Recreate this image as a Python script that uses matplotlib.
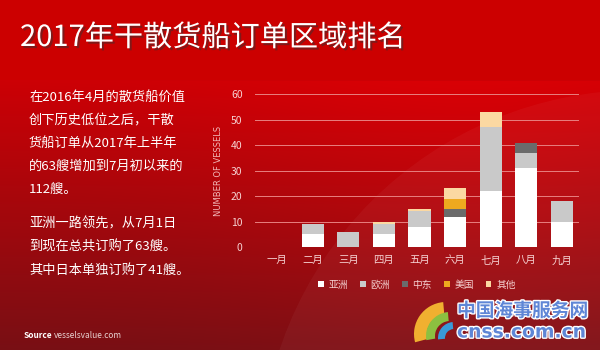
import numpy as np
import matplotlib.pyplot as plt
import matplotlib.patheffects as pe
from matplotlib.patches import Circle, Wedge

plt.rcParams['font.family'] = ['Noto Sans CJK SC', 'DejaVu Sans']

# 数据
months = ['一月', '二月', '三月', '四月', '五月', '六月', '七月', '八月', '九月']
asia = [0, 5, 0, 5, 8, 12, 22, 31, 10]
europe = [0, 4, 6, 4, 6, 0, 25, 6, 8]
mideast = [0, 0, 0, 0, 0, 3, 0, 4, 0]
usa = [0, 0, 0, 0, 0, 4, 0, 0, 0]
other = [0, 0, 0, 1, 1, 4, 6, 0, 0]

series = [('亚洲', asia, '#ffffff'), ('欧洲', europe, '#c9c9c9'),
          ('中东', mideast, '#6b6b6b'), ('美国', usa, '#eea91f'),
          ('其他', other, '#fbd8a2')]

fig = plt.figure(figsize=(6, 3.5), dpi=100)

# 背景渐变
bg = fig.add_axes([0, 0, 1, 1])
h, w = 350, 600
yy, xx = np.mgrid[0:h, 0:w]
t = np.clip((yy - 80) / 270, 0, 1)
top = np.array([0.80, 0.0, 0.02])
bot = np.array([0.47, 0.06, 0.08])
img = top[None, None, :] * (1 - t[..., None]) + bot[None, None, :] * t[..., None]
# 右侧稍亮
glow = np.exp(-((xx - 470) ** 2 + (yy - 170) ** 2) / (2 * 170 ** 2))
img = img + glow[..., None] * np.array([0.06, 0.0, 0.0]) * (yy[..., None] > 80)
img[:80] = [0.80, 0.0, 0.0]
bg.imshow(np.clip(img, 0, 1), extent=[0, w, h, 0], aspect='auto')
bg.add_patch(Circle((640, 470), 380, facecolor='white', alpha=0.04, edgecolor='none'))
bg.set_xlim(0, w)
bg.set_ylim(h, 0)
bg.axis('off')

# 标题
bg.text(20, 38, '2017年干散货船订单区域排名', color='white', fontsize=21,
        va='center', ha='left',
        path_effects=[pe.withSimplePatchShadow(offset=(1.5, -1.5), shadow_rgbFace='#333333', alpha=0.5)])

# 左侧文字
para1 = ['在2016年4月的散货船价值', '创下历史低位之后，干散', '货船订单从2017年上半年',
         '的63艘增加到7月初以来的', '112艘。']
para2 = ['亚洲一路领先，从7月1日', '到现在总共订购了63艘。', '其中日本单独订购了41艘。']
for i, line in enumerate(para1):
    bg.text(29, 97 + i * 23, line, color='white', fontsize=9.5, va='center')
for i, line in enumerate(para2):
    bg.text(29, 224 + i * 23, line, color='white', fontsize=9.5, va='center')

bg.text(24, 335, 'Source', color='white', fontsize=6, fontweight='bold', va='center')
bg.text(54, 335, 'vesselsvalue.com', color='#e8d0d0', fontsize=6, va='center')

# 水印 logo (y 轴倒置, 角度取反)
bg.add_patch(Wedge((446, 334), 32, 165, 265, width=13, facecolor='#f0b030', edgecolor='none'))
bg.add_patch(Wedge((450, 336), 24, 170, 265, width=9, facecolor='#8cc040', edgecolor='none'))
bg.add_patch(Wedge((454, 338), 16, 175, 265, width=7, facecolor='#3a9ad8', edgecolor='none'))
outline = [pe.withStroke(linewidth=2, foreground='white')]
bg.text(457, 311, '中国海事服务网', color='#5f86d6', fontsize=13.5, fontweight='bold',
        va='center', path_effects=outline)
bg.text(457, 332, 'cnss.com.cn', color='#5f86d6', fontsize=13.5, fontweight='bold',
        va='center', family=['DejaVu Sans'], path_effects=outline)

# 柱状图
ax = fig.add_axes([0.425, 0.294, 0.54, 0.437])
ax.patch.set_alpha(0)
x = np.arange(len(months))
bottom = np.zeros(len(months))
for name, vals, col in series:
    ax.bar(x, vals, 0.62, bottom=bottom, color=col, label=name, zorder=3)
    bottom += np.array(vals)

ax.set_ylim(0, 60)
ax.set_xlim(-0.62, 8.48)
ax.set_yticks(range(0, 61, 10))
ax.set_xticks(x)
ax.set_xticklabels(months)
ax.grid(axis='y', color='#e88080', linewidth=0.7, zorder=0)
ax.tick_params(axis='both', length=0, colors='#f6d2d2', labelsize=7.5)
ax.tick_params(axis='y', pad=9)
ax.tick_params(axis='x', pad=6)
for s in ax.spines.values():
    s.set_visible(False)
ax.set_ylabel('NUMBER OF VESSELS', color='#f2b8b8', fontsize=6, labelpad=6,
              family=['DejaVu Sans'])

leg = ax.legend(loc='upper center', bbox_to_anchor=(0.5, -0.155), ncol=5, frameon=False,
                fontsize=7, handlelength=0.6, handleheight=0.6, handletextpad=0.5,
                columnspacing=1.2)
for txt in leg.get_texts():
    txt.set_color('#f6d2d2')

fig.savefig('out.png', dpi=100)
